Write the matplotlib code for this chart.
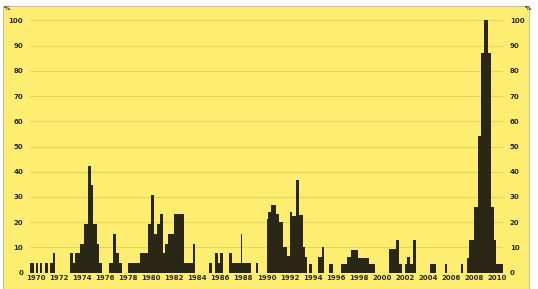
import numpy as np
import matplotlib
matplotlib.use("Agg")
import matplotlib.pyplot as plt
from matplotlib.patches import Rectangle

# monthly series Jan 1970 .. Dec 2010, stored as runs: month boundaries and value per run
run_edges = [0, 4, 6, 8, 10, 13, 16, 19, 21, 24, 26, 42, 45, 47, 52, 56, 60, 63, 66, 70,
             72, 75, 82, 86, 89, 93, 96, 102, 114, 123, 126, 129, 132, 135, 138, 140, 144,
             150, 160, 170, 172, 186, 189, 192, 196, 198, 201, 207, 210, 219, 221, 230, 235,
             237, 246, 248, 251, 256, 259, 263, 267, 270, 273, 277, 280, 284, 286, 288, 290,
             293, 300, 304, 306, 311, 315, 324, 330, 334, 341, 353, 359, 373, 381, 384, 387,
             390, 392, 395, 398, 401, 416, 422, 432, 434, 448, 450, 455, 457, 462, 466, 469,
             472, 476, 480, 483, 485, 492]
run_values = [3.8, 0, 3.8, 0, 3.8, 0, 3.8, 0, 3.8, 7.7, 0, 7.7, 3.8, 7.7, 11.5, 19.2, 42.3,
              34.6, 19.2, 11.5, 3.8, 0, 3.8, 15.4, 7.7, 3.8, 0, 3.8, 7.7, 19.2, 30.8, 15.4,
              19.2, 23.1, 7.7, 11.5, 15.4, 23.1, 3.8, 11.5, 0, 3.8, 0, 7.7, 3.8, 7.7, 0, 7.7,
              3.8, 15.4, 3.8, 0, 3.8, 0, 21.2, 24, 26.9, 23.1, 20, 10, 6.5, 24, 22.5, 36.7,
              23, 10, 6.3, 0, 3.5, 0, 6.3, 10, 0, 3.5, 0, 3.5, 6.3, 9, 5.8, 3.5, 0, 9.5, 13,
              3.5, 0, 3.5, 6.3, 3.5, 13, 0, 3.5, 0, 3.5, 0, 3.5, 0, 5.8, 13, 26, 54, 87, 100,
              87, 26, 13, 3.5]
year_ticks = list(range(1970, 2011, 2))
pct_ticks = list(range(0, 101, 10))

share = np.repeat(run_values, np.diff(run_edges))
month_edges = 1970 + np.arange(len(share) + 1) / 12.0

W, H = 538, 289
fig = plt.figure(figsize=(W / 100, H / 100), dpi=100)
fig.patch.set_facecolor("white")

# yellow panel behind everything
fig.patches.append(Rectangle((3 / W, 0), 526 / W, 283 / H, transform=fig.transFigure,
                             facecolor="#fdee72", edgecolor="#c9c2a0", linewidth=0.8,
                             zorder=-10))

ax = fig.add_axes([30 / W, 16.4 / H, 473 / W, 252.2 / H])
ax.set_facecolor("none")
ax.stairs(share, month_edges, fill=True, color="#2b2717", linewidth=0)

ax.set_xlim(1970, 2011)
ax.set_ylim(0, 100)
ax.set_xticks([y + 0.5 for y in year_ticks])
ax.set_xticklabels([str(y) for y in year_ticks])
ax.set_yticks(pct_ticks)
ax.yaxis.grid(True, color="#e6d560", linewidth=0.8)
ax.set_axisbelow(True)
for s in ax.spines.values():
    s.set_visible(False)
ax.tick_params(axis="both", length=0, labelsize=5, colors="#2b2a1e")
ax.tick_params(axis="x", pad=2)
ax.tick_params(axis="y", pad=5, labelleft=True, labelright=True)
for lab in ax.get_xticklabels() + ax.yaxis.get_ticklabels(which="both"):
    lab.set_fontweight("bold")
for t in ax.yaxis.get_major_ticks():
    t.label2.set_fontweight("bold")

fig.text(4 / W, 1 - 8 / H, "%", fontsize=4.5, fontweight="bold", color="#2b2a1e",
         va="center", ha="left")
fig.text(531 / W, 1 - 8 / H, "%", fontsize=4.5, fontweight="bold", color="#2b2a1e",
         va="center", ha="right")

fig.savefig("out.png", dpi=100, facecolor=fig.get_facecolor())
